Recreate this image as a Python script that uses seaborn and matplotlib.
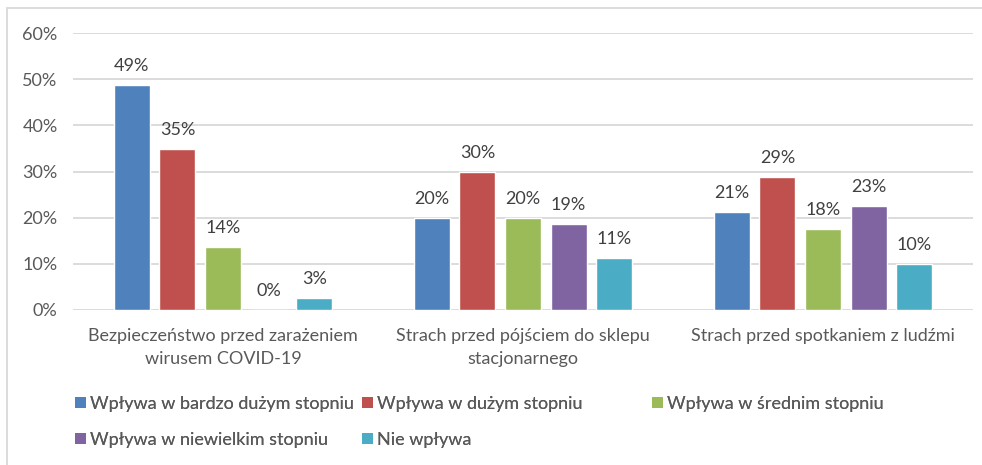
import matplotlib
matplotlib.use("Agg")
import matplotlib.pyplot as plt
from matplotlib.patches import Rectangle, Patch
from matplotlib.ticker import PercentFormatter
import pandas as pd
import seaborn as sns

# data
categories = [
    "Bezpieczeństwo przed zarażeniem\nwirusem COVID-19",
    "Strach przed pójściem do sklepu\nstacjonarnego",
    "Strach przed spotkaniem z ludźmi",
]
series = [
    "Wpływa w bardzo dużym stopniu",
    "Wpływa w dużym stopniu",
    "Wpływa w średnim stopniu",
    "Wpływa w niewielkim stopniu",
    "Nie wpływa",
]
bardzo_duzy = [0.487, 0.199, 0.212]
duzy = [0.348, 0.299, 0.288]
sredni = [0.136, 0.200, 0.175]
niewielki = [0.0, 0.186, 0.226]
nie_wplywa = [0.026, 0.112, 0.100]
colors = ["#4f81bd", "#c0504d", "#9bbb59", "#8064a2", "#4bacc6"]

values = [bardzo_duzy, duzy, sredni, niewielki, nie_wplywa]
df = pd.DataFrame(
    [(c, s, v) for s, vals in zip(series, values) for c, v in zip(categories, vals)],
    columns=["kategoria", "seria", "wartosc"],
)

sns.set_style("white")
plt.rcParams["font.family"] = ["Lato", "DejaVu Sans"]
text_col = "#595959"
fs = 13

fig = plt.figure(figsize=(9.82, 4.65), dpi=100)
ax = fig.add_axes([73 / 982, 1 - 310 / 465, 900 / 982, 277 / 465])

sns.barplot(
    data=df, x="kategoria", y="wartosc", hue="seria",
    order=categories, hue_order=series, palette=colors,
    width=0.76, gap=0.21, saturation=1, errorbar=None, legend=False, ax=ax,
)

ax.set_ylim(0, 0.6)
ax.set_xlim(-0.5, 2.5)
ax.set_yticks([0, 0.1, 0.2, 0.3, 0.4, 0.5, 0.6])
ax.yaxis.set_major_formatter(PercentFormatter(1.0, decimals=0))
ax.grid(axis="y", color="#d9d9d9", linewidth=1.3)
ax.set_axisbelow(True)
for s in ax.spines.values():
    s.set_visible(False)
ax.set_xlabel("")
ax.set_ylabel("")
ax.tick_params(axis="y", length=0, pad=11, labelsize=fs, labelcolor=text_col)
ax.tick_params(axis="x", length=0, pad=13, labelsize=fs, labelcolor=text_col)
for t in ax.get_xticklabels():
    t.set_linespacing(1.55)

# data labels
for cont in ax.containers:
    ax.bar_label(cont, labels=[f"{v * 100:.0f}%" for v in cont.datavalues],
                 padding=8, fontsize=fs, color="#404040")

# legend in an even grid like the original
col_x = [75, 362, 652]
row_y = [404, 440]
for i, (name, col) in enumerate(zip(series, colors)):
    r, c = divmod(i, 3)
    h = Patch(facecolor=col, edgecolor="none")
    leg = fig.legend(
        handles=[h], labels=[name], loc="center left",
        bbox_to_anchor=(col_x[c] / 982, 1 - row_y[r] / 465),
        frameon=False, fontsize=fs, handlelength=0.6, handleheight=0.6,
        handletextpad=0.25, borderpad=0, borderaxespad=0, labelcolor=text_col,
    )
    fig.add_artist(leg)

# chart border
fig.add_artist(Rectangle((7 / 982, -0.1), 1.1, 1 - 8 / 465 + 0.1,
                         transform=fig.transFigure, fill=False,
                         edgecolor="#d9d9d9", linewidth=1.3))

fig.savefig("out.png", dpi=100, facecolor="white")
